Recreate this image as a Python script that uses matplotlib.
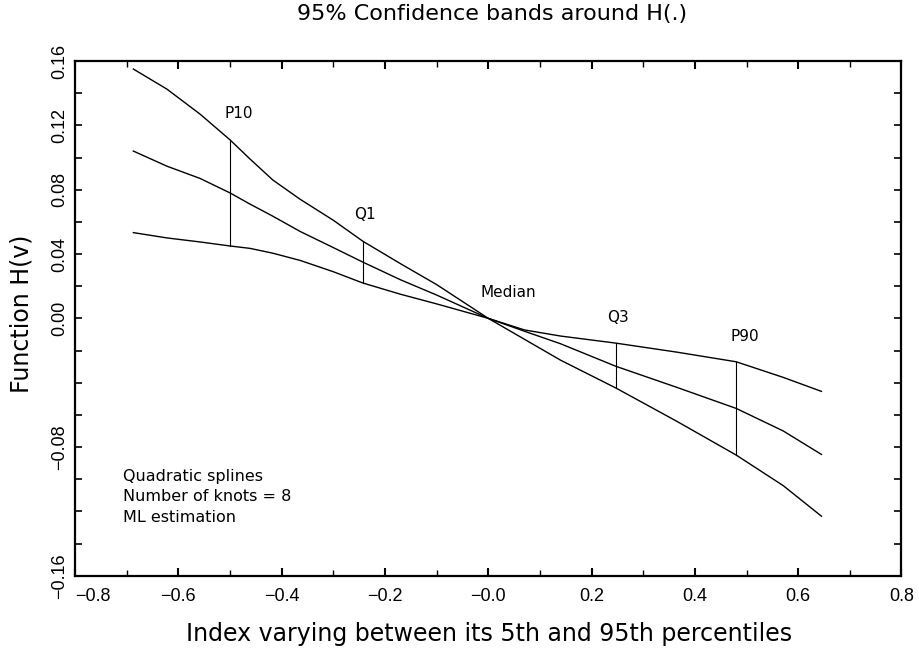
import numpy as np
import matplotlib.pyplot as plt
from matplotlib.ticker import MultipleLocator, FixedLocator

# ---------------------------------------------------------------------
# data
# ---------------------------------------------------------------------
x_grid = [-0.687, -0.622, -0.558, -0.500, -0.461, -0.417, -0.364, -0.300, -0.243,
          -0.170, -0.100, 0.000, 0.070, 0.140, 0.247, 0.365, 0.480, 0.571, 0.645]

# steep band edge (upper on the left, lower on the right)
h_steep = [0.155, 0.1425, 0.127, 0.111, 0.099, 0.086, 0.074, 0.061, 0.048,
           0.034, 0.021, 0.000, -0.013, -0.026, -0.0433, -0.064, -0.085, -0.104, -0.123]
# point estimate H(v)
h_mid = [0.104, 0.0946, 0.087, 0.078, 0.071, 0.0635, 0.054, 0.044, 0.035,
         0.024, 0.0145, 0.000, -0.008, -0.0158, -0.0298, -0.0429, -0.056, -0.070, -0.0846]
# flat band edge
h_flat = [0.0533, 0.050, 0.0475, 0.045, 0.0435, 0.0405, 0.036, 0.029, 0.022,
          0.015, 0.009, 0.000, -0.0072, -0.011, -0.0154, -0.021, -0.027, -0.0367, -0.0454]

# percentile markers: position, band top, band bottom
pct_names = ['P10', 'Q1', 'Median', 'Q3', 'P90']
pct_x = [-0.500, -0.243, 0.000, 0.247, 0.480]
pct_lo = [0.045, 0.022, 0.000, -0.0433, -0.085]
pct_hi = [0.111, 0.048, 0.000, -0.0154, -0.0273]
pct_label_x = [-0.483, -0.239, 0.039, 0.251, 0.496]
pct_label_y = [0.1275, 0.0644, 0.0159, 0.0003, -0.0114]

x_ticks = [-0.8, -0.6, -0.4, -0.2, 0.0, 0.2, 0.4, 0.6, 0.8]
x_ticklabels = ['\u22120.8', '\u22120.6', '\u22120.4', '\u22120.2', '\u22120.0',
                '0.2', '0.4', '0.6', '0.8']
y_ticks = [-0.16, -0.12, -0.08, -0.04, 0.0, 0.04, 0.08, 0.12, 0.16]
y_ticklabels = ['\u22120.16', '', '\u22120.08', '', '0.00', '0.04', '0.08', '0.12', '0.16']

notes = ['Quadratic splines', 'Number of knots = 8', 'ML estimation']

# ---------------------------------------------------------------------
# figure
# ---------------------------------------------------------------------
fig = plt.figure(figsize=(9.2, 6.52), dpi=100)
ax = fig.add_axes([75 / 920, 1 - 575.7 / 652, 826.5 / 920, 514.7 / 652])

for ys in (h_steep, h_mid, h_flat):
    ax.plot(x_grid, ys, color='black', lw=1.0)

for name, px, lo, hi, lx, ly in zip(pct_names, pct_x, pct_lo, pct_hi, pct_label_x, pct_label_y):
    if hi != lo:
        ax.plot([px, px], [lo, hi], color='black', lw=0.8)
    ax.text(lx, ly, name, ha='center', va='center', fontsize=11, family='DejaVu Sans')

for i, line in enumerate(notes):
    ax.text(-0.707, -0.0982 - i * 0.0128, line, ha='left', va='center',
            fontsize=11.5, family='DejaVu Sans')

ax.set_xlim(-0.8, 0.8)
ax.set_ylim(-0.16, 0.16)

ax.xaxis.set_major_locator(FixedLocator(x_ticks))
ax.xaxis.set_minor_locator(MultipleLocator(0.1))
ax.set_xticklabels(x_ticklabels, fontsize=13, family='Liberation Sans')
ax.get_xticklabels()[0].set_horizontalalignment('left')

ax.yaxis.set_major_locator(FixedLocator(y_ticks))
ax.yaxis.set_minor_locator(MultipleLocator(0.02))
ax.set_yticklabels(y_ticklabels, fontsize=13, family='Liberation Sans',
                   rotation=90, va='center')

ax.tick_params(which='both', direction='in', top=True, right=True)
ax.tick_params(axis='x', which='major', length=6, width=1.5, pad=9)
ax.tick_params(axis='x', which='minor', length=4, width=1.0)
ax.tick_params(axis='y', which='both', length=5, width=1.2, pad=5)

for sp in ax.spines.values():
    sp.set_linewidth(1.6)

fig.text(492 / 920, 1 - 14 / 652, '95% Confidence bands around H(.)',
         ha='center', va='center', fontsize=16, family='DejaVu Sans')
fig.text(489 / 920, 1 - 634 / 652, 'Index varying between its 5th and 95th percentiles',
         ha='center', va='center', fontsize=17, family='DejaVu Sans')
fig.text(22 / 920, 1 - 314 / 652, 'Function H(v)', rotation=90,
         ha='center', va='center', fontsize=17, family='DejaVu Sans')

fig.savefig('out.png', dpi=100)
